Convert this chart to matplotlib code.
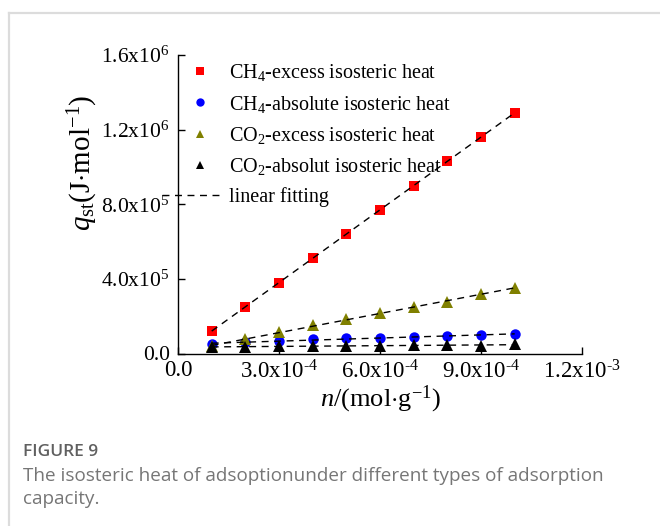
import numpy as np
import matplotlib
matplotlib.use("Agg")
import matplotlib.pyplot as plt
from matplotlib.lines import Line2D
from matplotlib.legend_handler import HandlerLine2D

# ---------------- data ----------------
n_values = [1e-4, 2e-4, 3e-4, 4e-4, 5e-4, 6e-4, 7e-4, 8e-4, 9e-4, 1.0e-3]
ch4_excess = [1.20e5, 2.50e5, 3.80e5, 5.10e5, 6.40e5, 7.70e5, 9.00e5, 1.03e6, 1.16e6, 1.29e6]
ch4_absolute = [4.9e4, 6.0e4, 6.9e4, 7.6e4, 8.1e4, 8.2e4, 9.0e4, 9.4e4, 9.8e4, 1.03e5]
co2_excess = [3.8e4, 7.6e4, 1.14e5, 1.53e5, 1.83e5, 2.15e5, 2.48e5, 2.78e5, 3.17e5, 3.53e5]
co2_absolute = [3.3e4, 3.6e4, 4.2e4, 4.0e4, 4.2e4, 4.0e4, 4.4e4, 4.5e4, 4.0e4, 5.1e4]

series_labels = ["CH$_4$-excess isosteric heat", "CH$_4$-absolute isosteric heat",
                 "CO$_2$-excess isosteric heat", "CO$_2$-absolut isosteric heat"]
fit_label = "linear fitting"

x_ticks = [0.0, 3e-4, 6e-4, 9e-4, 1.2e-3]
x_ticklabels = ["0.0", "3.0x10$^{\u2010 4}$", "6.0x10$^{\u2010 4}$", "9.0x10$^{\u2010 4}$", "1.2x10$^{\u2010 3}$"]
y_ticks = [0.0, 4e5, 8e5, 1.2e6, 1.6e6]
y_ticklabels = ["0.0", "4.0x10$^{5}$", "8.0x10$^{5}$", "1.2x10$^{6}$", "1.6x10$^{6}$"]

caption_title = "FIGURE 9"
caption_text = "The isosteric heat of adsoptionunder different types of adsorption\ncapacity."

# ---------------- style ----------------
plt.rcParams['font.family'] = ['Liberation Serif', 'DejaVu Serif']
plt.rcParams['mathtext.fontset'] = 'custom'
plt.rcParams['mathtext.rm'] = 'Liberation Serif'
plt.rcParams['mathtext.it'] = 'Liberation Serif:italic'
plt.rcParams['mathtext.bf'] = 'Liberation Serif:bold'

W, H = 660, 526
fig = plt.figure(figsize=(W / 100, H / 100), dpi=100)
ax_l, ax_r, ax_t, ax_b = 178, 582, 55, 353.5
ax = fig.add_axes([ax_l / W, 1 - ax_b / H, (ax_r - ax_l) / W, (ax_b - ax_t) / H])

styles = [
    dict(marker='s', color='#ff0000', ms=6.5),
    dict(marker='o', color='#0000ff', ms=7.5),
    dict(marker='^', color='#808000', ms=8),
    dict(marker='^', color='#000000', ms=8),
]
all_series = [ch4_excess, ch4_absolute, co2_excess, co2_absolute]
x = np.array(n_values)
handles = []
for ys, st, lab in zip(all_series, styles, series_labels):
    h, = ax.plot(x, ys, linestyle='none', marker=st['marker'], color=st['color'],
                 markersize=st['ms'], markeredgewidth=0, label=lab, zorder=3, clip_on=False)
    handles.append(h)
    k, b = np.polyfit(x, ys, 1)
    xf = np.array([x[0], x[-1]])
    ax.plot(xf, k * xf + b, linestyle=(0, (5, 4)), color='black', lw=1.0, zorder=4)

fit_handle = Line2D([], [], linestyle=(0, (5, 4)), color='black', lw=1.0)


class ShiftedLineHandler(HandlerLine2D):
    def create_artists(self, legend, orig_handle, xdescent, ydescent, width, height, fontsize, trans):
        arts = super().create_artists(legend, orig_handle, xdescent, ydescent, width, height, fontsize, trans)
        for a in arts:
            xd = np.asarray(a.get_xdata(), dtype=float)
            if len(xd) >= 2:
                a.set_xdata(np.linspace(xd[0] - 20, xd[-1] + 10, len(xd)))
        return arts


ax.set_xlim(0, 1.2e-3)
ax.set_ylim(0, 1.6e6)
ax.set_xticks(x_ticks)
ax.set_xticklabels(x_ticklabels)
ax.set_yticks(y_ticks)
ax.set_yticklabels(y_ticklabels)
ax.tick_params(direction='in', length=5, width=1, labelsize=16.5, pad=5)
ax.tick_params(axis='y', labelsize=15.5, pad=6)
ax.spines['top'].set_visible(False)
ax.spines['right'].set_visible(False)
for s in ('left', 'bottom'):
    ax.spines[s].set_linewidth(1.0)

ax.set_xlabel("$n$/(mol$\\cdot$g$^{-1}$)", fontsize=19)
ax.set_ylabel("$q_{\\mathrm{st}}$(J$\\cdot$mol$^{-1}$)", fontsize=21)
ax.xaxis.set_label_coords(0.5, -0.10)
ax.yaxis.set_label_coords(-0.192, 0.64)

leg = ax.legend(handles + [fit_handle], series_labels + [fit_label],
                loc='upper left', bbox_to_anchor=(0.03, 0.975), frameon=False,
                fontsize=14.5, handlelength=1.0, handletextpad=0.95, labelspacing=0.5,
                borderpad=0, borderaxespad=0, markerscale=0.8, numpoints=1,
                handler_map={fit_handle: ShiftedLineHandler()})

# ---------------- card frame and caption ----------------
fig.add_artist(Line2D([9 / W, 1], [1 - 13 / H, 1 - 13 / H], color='#dcdcdc', lw=1.6, transform=fig.transFigure))
fig.add_artist(Line2D([9 / W, 9 / W], [0, 1 - 13 / H], color='#dcdcdc', lw=1.6, transform=fig.transFigure))
fig.text(23 / W, 1 - 452 / H, caption_title, family=['Open Sans', 'DejaVu Sans'], weight='semibold',
         fontsize=12.5, color='#606060', va='center', ha='left')
fig.text(23 / W, 1 - 476 / H, caption_text.split("\n")[0], family=['Open Sans', 'DejaVu Sans'],
         fontsize=13.6, color='#767676', va='center', ha='left')
fig.text(23 / W, 1 - 499 / H, caption_text.split("\n")[1], family=['Open Sans', 'DejaVu Sans'],
         fontsize=13.6, color='#767676', va='center', ha='left')

fig.savefig("out.png", dpi=100)
